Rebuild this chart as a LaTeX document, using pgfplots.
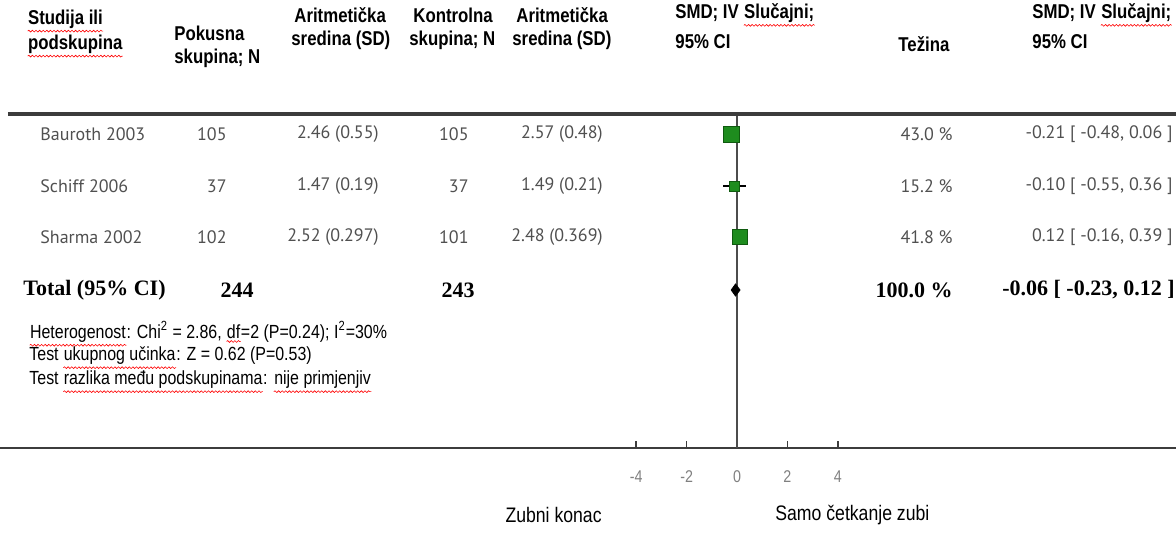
\documentclass[border=0pt]{standalone}
\usepackage{pgfplots}
\pgfplotsset{compat=1.18}
\usetikzlibrary{decorations.pathmorphing}
\usepackage{fontspec}
\setmainfont{Liberation Sans}
\newfontfamily\hdr[FakeStretch=0.84]{Liberation Sans}
\newfontfamily\gill{PT Sans}
\newfontfamily\tms{Liberation Serif}
\definecolor{bodygray}{HTML}{505050}
\definecolor{boxgreen}{HTML}{1E8C1E}
\definecolor{boxedge}{HTML}{0F5A0F}
\definecolor{rulegray}{HTML}{3C3C3C}
% red spell-check wave under words
\newcommand\sw[1]{\tikz[baseline=(w.base), x=1cm, y=1cm]{%
  \node[inner sep=0pt, anchor=base west](w) at (0,0) {#1};
  \draw[red, line width=0.3pt, decorate,
        decoration={snake, amplitude=0.45pt, segment length=1.8pt}]
    ([yshift=-1.2pt]w.south west) -- ([yshift=-1.2pt]w.south east);}}

\begin{document}
\begin{tikzpicture}
\useasboundingbox (0,0) rectangle (588pt,268pt);
\begin{axis}[
    scale only axis, width=588pt, height=268pt,
    xmin=-29.246, xmax=17.421, ymin=-88, ymax=448,
    axis x line=middle, axis y line=none,
    axis line style={-, rulegray, line width=1.1pt},
    xtick={-4,-2,0,2,4}, xticklabels={-4,-2,0,2,4},
    xtick align=inside, major tick length=3.5pt,
    tick style={rulegray, line width=0.8pt},
    xticklabel style={font=\hdr\fontsize{8.5}{10}\selectfont, text=gray, yshift=-8pt},
    ytick=\empty,
    clip=false,
]
% line of no effect and top rule
\draw[gray!60!black, line width=0.8pt] (axis cs:0,0) -- (axis cs:0,334);
\draw[rulegray, line width=2pt] (axis cs:-28.93,334) -- (axis cs:17.42,334);

% study boxes (size ~ weight)
\addplot[only marks, mark=square*, mark size=4pt, boxgreen, mark options={draw=boxedge}]
    coordinates {(-0.21,314)};
\addplot[only marks, mark=square*, mark size=2.5pt, boxgreen, mark options={draw=boxedge}]
    coordinates {(-0.10,262)};
\addplot[only marks, mark=square*, mark size=3.8pt, boxgreen, mark options={draw=boxedge}]
    coordinates {(0.12,211)};

% 95% CI
\addplot[draw=none, no marks,
    error bars/.cd, x dir=both, x explicit, error mark=none,
    error bar style={draw=black, line width=0.9pt}]
    coordinates {
    (-0.21,314) += (0.27,0) -= (0.27,0)
    (-0.10,262) += (0.46,0) -= (0.45,0)
    (0.12,211)  += (0.27,0) -= (0.28,0)
};

% pooled estimate
\addplot[fill=black, draw=black, mark=none]
    coordinates {(-0.23,158) (-0.06,164) (0.12,158) (-0.06,152) (-0.23,158)};
\end{axis}

% table text, placed in pixel coordinates of the original
\begin{scope}[shift={(0pt,268pt)}, x=0.5pt, y=-0.5pt]
\tikzset{h/.style={inner sep=0pt, anchor=west, font=\hdr\bfseries\fontsize{10}{12}\selectfont},
         b/.style={inner sep=0pt, anchor=east, text=bodygray, font=\gill\fontsize{9}{11}\selectfont},
         t/.style={inner sep=0pt, anchor=east, font=\tms\bfseries\fontsize{11}{13}\selectfont},
         f/.style={inner sep=0pt, anchor=west, font=\hdr\fontsize{9.5}{11}\selectfont}}
\node[h] at (27,21) {\sw{Studija ili}};
\node[h] at (27,46) {\sw{podskupina}};
\node[h] at (174,33) {Pokusna};
\node[h] at (174,58) {skupina; N};
\node[h] at (294,15) {Aritmetička};
\node[h] at (291,40) {sredina (SD)};
\node[h] at (413,15) {Kontrolna};
\node[h] at (409,40) {skupina; N};
\node[h] at (516,15) {Aritmetička};
\node[h] at (512,40) {sredina (SD)};
\node[h] at (675,15) {SMD; IV \sw{Slučajni;}};
\node[h] at (675,42) {95\% CI};
\node[h] at (898,44) {Težina};
\node[h] at (1032,15) {SMD; IV \sw{Slučajni;}};
\node[h] at (1032,42) {95\% CI};

\node[b, anchor=west] at (40,134) {Bauroth 2003};
\node[b] at (227,134) {105};
\node[b] at (379,134) {2.46 (0.55)};
\node[b] at (469,134) {105};
\node[b] at (603,134) {2.57 (0.48)};
\node[b] at (953,134) {43.0 \%};
\node[b] at (1173,134) {-0.21 [ -0.48, 0.06 ]};

\node[b, anchor=west] at (40,186) {Schiff 2006};
\node[b] at (227,186) {37};
\node[b] at (379,186) {1.47 (0.19)};
\node[b] at (469,186) {37};
\node[b] at (603,186) {1.49 (0.21)};
\node[b] at (953,186) {15.2 \%};
\node[b] at (1173,186) {-0.10 [ -0.55, 0.36 ]};

\node[b, anchor=west] at (40,237) {Sharma 2002};
\node[b] at (227,237) {102};
\node[b] at (379,237) {2.52 (0.297)};
\node[b] at (469,237) {101};
\node[b] at (603,237) {2.48 (0.369)};
\node[b] at (953,237) {41.8 \%};
\node[b] at (1173,237) {0.12 [ -0.16, 0.39 ]};

\node[t, anchor=west] at (23,290) {Total (95\% CI)};
\node[t] at (254,290) {244};
\node[t] at (475,290) {243};
\node[t] at (953,290) {100.0 \%};
\node[t] at (1175,290) {-0.06 [ -0.23, 0.12 ]};

\node[f] at (29,334) {\sw{Heterogenost}: Chi\textsuperscript{2} = 2.86, \sw{df}=2 (P=0.24); I\textsuperscript{2}=30\%};
\node[f] at (29,358) {Test \sw{ukupnog učinka}: Z = 0.62 (P=0.53)};
\node[f] at (29,382) {Test \sw{razlika među podskupinama}: \sw{nije primjenjiv}};

\node[f, anchor=east, font=\hdr\fontsize{10.5}{12}\selectfont] at (602,515) {Zubni konac};
\node[f, font=\hdr\fontsize{10.5}{12}\selectfont] at (775,515) {Samo četkanje zubi};
\end{scope}
\end{tikzpicture}
\end{document}
